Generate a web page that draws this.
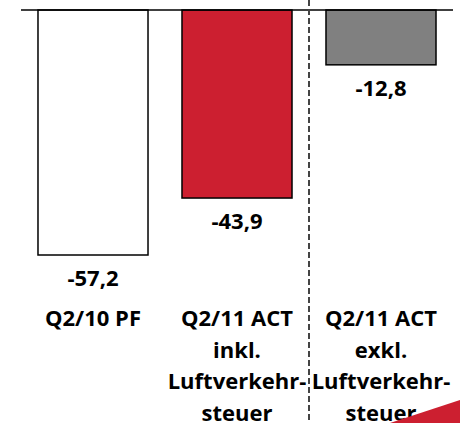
<!DOCTYPE html>
<html>
<head>
<meta charset="utf-8">
<script src="https://cdn.jsdelivr.net/npm/d3@7"></script>
<style>
  body { margin: 0; background: #fff; }
  text { font-family: "Open Sans", "Noto Sans", sans-serif; font-weight: bold; fill: #000; }
</style>
</head>
<body>
<div id="chart"></div>
<script>
// chart data
var categories = ["Q2/10 PF", "Q2/11 ACT inkl.", "Q2/11 ACT exkl."];
var values = [-57.2, -43.9, -12.8];
var valueLabels = ["-57,2", "-43,9", "-12,8"];
var categoryLines = [
  ["Q2/10 PF"],
  ["Q2/11 ACT", "inkl.", "Luftverkehr-", "steuer"],
  ["Q2/11 ACT", "exkl.", "Luftverkehr-", "steuer"]
];
var barColors = ["#ffffff", "#cc1f30", "#808080"];

var width = 460;
var height = 423;

var svg = d3
  .select("#chart")
  .append("svg")
  .attr("width", width)
  .attr("height", height);

var xScale = d3
  .scaleBand()
  .domain(categories)
  .range([21, 453])
  .paddingInner(0.236)
  .paddingOuter(0.118);

var yScale = d3
  .scaleLinear()
  .domain([0, -57.2])
  .range([10, 255]);

// bars
svg
  .selectAll("rect.bar")
  .data(values)
  .enter()
  .append("rect")
  .attr("class", "bar")
  .attr("x", function(d, i) { return xScale(categories[i]); })
  .attr("y", yScale(0))
  .attr("width", xScale.bandwidth())
  .attr("height", function(d) { return yScale(d) - yScale(0); })
  .attr("fill", function(d, i) { return barColors[i]; })
  .attr("stroke", "#000")
  .attr("stroke-width", 1.5);

// baseline
svg
  .append("line")
  .attr("x1", 21)
  .attr("x2", 453)
  .attr("y1", yScale(0))
  .attr("y2", yScale(0))
  .attr("stroke", "#000")
  .attr("stroke-width", 1.5);

// dashed separator
var sepX = (xScale(categories[1]) + xScale.bandwidth() + xScale(categories[2])) / 2;
svg
  .append("line")
  .attr("x1", sepX)
  .attr("x2", sepX)
  .attr("y1", 0)
  .attr("y2", height)
  .attr("stroke", "#444")
  .attr("stroke-width", 2)
  .attr("stroke-dasharray", "6,3");

// value labels
svg
  .selectAll("text.val")
  .data(values)
  .enter()
  .append("text")
  .attr("class", "val")
  .attr("x", function(d, i) { return xScale(categories[i]) + xScale.bandwidth() / 2; })
  .attr("y", function(d) { return yScale(d) + 31; })
  .attr("text-anchor", "middle")
  .attr("font-size", 22)
  .text(function(d, i) { return valueLabels[i]; });

// category labels
categoryLines.forEach(function(lines, i) {
  var cx = xScale(categories[i]) + xScale.bandwidth() / 2;
  lines.forEach(function(line, j) {
    svg
      .append("text")
      .attr("x", cx)
      .attr("y", 326 + j * 31.5)
      .attr("text-anchor", "middle")
      .attr("font-size", 22)
      .text(line);
  });
});

// red corner decoration
svg
  .append("polygon")
  .attr("points", "390,423 460,400 460,423")
  .attr("fill", "#cc1f30");
</script>
</body>
</html>
